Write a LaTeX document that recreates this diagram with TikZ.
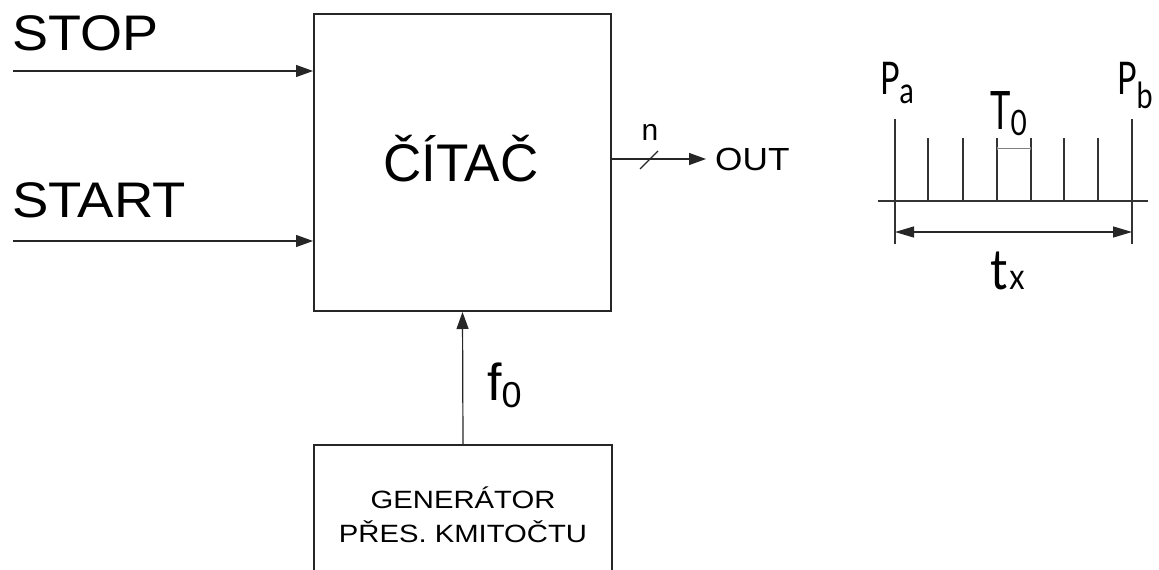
\documentclass[tikz,border=0pt]{standalone}
\usepackage{fontspec}
\setmainfont{Liberation Sans}
\newfontfamily\tfont{Lato}
\usetikzlibrary{arrows.meta}
\tikzset{
  blk/.style={draw=black!85, line width=2pt, inner sep=0pt},
  arr/.style={line width=1.2pt, draw=black!85, -{Triangle[length=17pt,width=12pt]}},
  lbl/.style={inner sep=0pt, anchor=base west},
  lblc/.style={inner sep=0pt, anchor=base},
  tl/.style={line width=1.6pt, draw=black!80},
  dimarr/.style={line width=1.3pt, draw=black!85, {Triangle[length=19pt,width=11pt]}-{Triangle[length=19pt,width=11pt]}},
}
\newcommand{\fs}[1]{\fontsize{#1}{#1}\selectfont}
\newcommand{\xs}[2]{\scalebox{#1}[1]{#2}}
\begin{document}
\begin{tikzpicture}[x=1pt,y=-1pt]
\useasboundingbox (0,0) rectangle (1159,570);
\clip (0,0) rectangle (1159,570);
% main counter
\node[blk, minimum width=297pt, minimum height=297pt] (ctr) at (462.5,162.5) {};
\node[lblc] (ctrl) at (461,181) {\fs{53}\xs{1.0}{ČÍTAČ}};
% generator
\node[blk, minimum width=298pt, minimum height=154pt] (gen) at (463,522) {};
\node[lblc] (g1) at (463,508) {\fs{25}\xs{1.17}{GENERÁTOR}};
\node[lblc] (g2) at (463,542) {\fs{25}\xs{1.17}{PŘES. KMITOČTU}};
% inputs
\coordinate (stopin) at (13,71);
\coordinate (startin) at (13,241);
\draw[arr] (stopin) -- (stopin -| ctr.west);
\draw[arr] (startin) -- (startin -| ctr.west);
\node[lbl] (stopl) at (12,50) {\fs{50}\xs{1.08}{STOP}};
\node[lbl] (startl) at (12,217) {\fs{50}\xs{1.09}{START}};
% output
\coordinate (outend) at (706,159);
\draw[arr] (ctr.east |- outend) -- (outend);
\coordinate (s1) at (640,169);
\coordinate (s2) at (658,151);
\draw[line width=1.2pt, draw=black!85] (s1) -- (s2);
\node[lblc] (nl) at (650,140) {\fs{30}n};
\node[lbl] (outl) at (715,170) {\fs{32}\xs{1.1}{OUT}};
% f0
\draw[arr] (gen.north) -- (ctr.south);
\node[lbl] (f0l) at (487,400) {\fs{52}f\raisebox{-7pt}{\fs{36}0}};
% timing diagram
\coordinate (ax1) at (878,201);
\coordinate (ax2) at (1148,201);
\draw[tl] (ax1) -- (ax2);
\coordinate (pa1) at (895,119);
\coordinate (pa2) at (895,244);
\coordinate (pb1) at (1132,119);
\coordinate (pb2) at (1132,244);
\draw[tl] (pa1) -- (pa2);
\draw[tl] (pb1) -- (pb2);
\foreach \xx in {928,963,997,1031,1064,1098}
  \draw[tl] (\xx,138) -- (\xx,201);
\coordinate (t01) at (997,148);
\coordinate (t02) at (1031,148);
\draw[line width=0.6pt, draw=black!50, {Bar[width=3pt]}-{Bar[width=3pt]}] (t01) -- (t02);
\coordinate (tx1) at (895,232);
\coordinate (tx2) at (1132,232);
\draw[dimarr] (tx1) -- (tx2);
\node[lbl] (pal) at (880,94) {\tfont\fs{45}\xs{0.72}{P}\raisebox{-9pt}{\fs{36}\xs{0.8}{a}}};
\node[lbl] (pbl) at (1117,94) {\tfont\fs{45}\xs{0.72}{P}\raisebox{-14pt}{\fs{36}\xs{0.8}{b}}};
\node[lbl] (t0l) at (990,129) {\tfont\fs{53}\xs{0.65}{T}\raisebox{-6pt}{\fs{35}\xs{0.8}{0}}};
\node[lbl] (txl) at (990,289) {\tfont\fs{56}\xs{0.85}{t}\hspace{2pt}\fs{36}\xs{0.85}{x}};
\end{tikzpicture}
\end{document}
